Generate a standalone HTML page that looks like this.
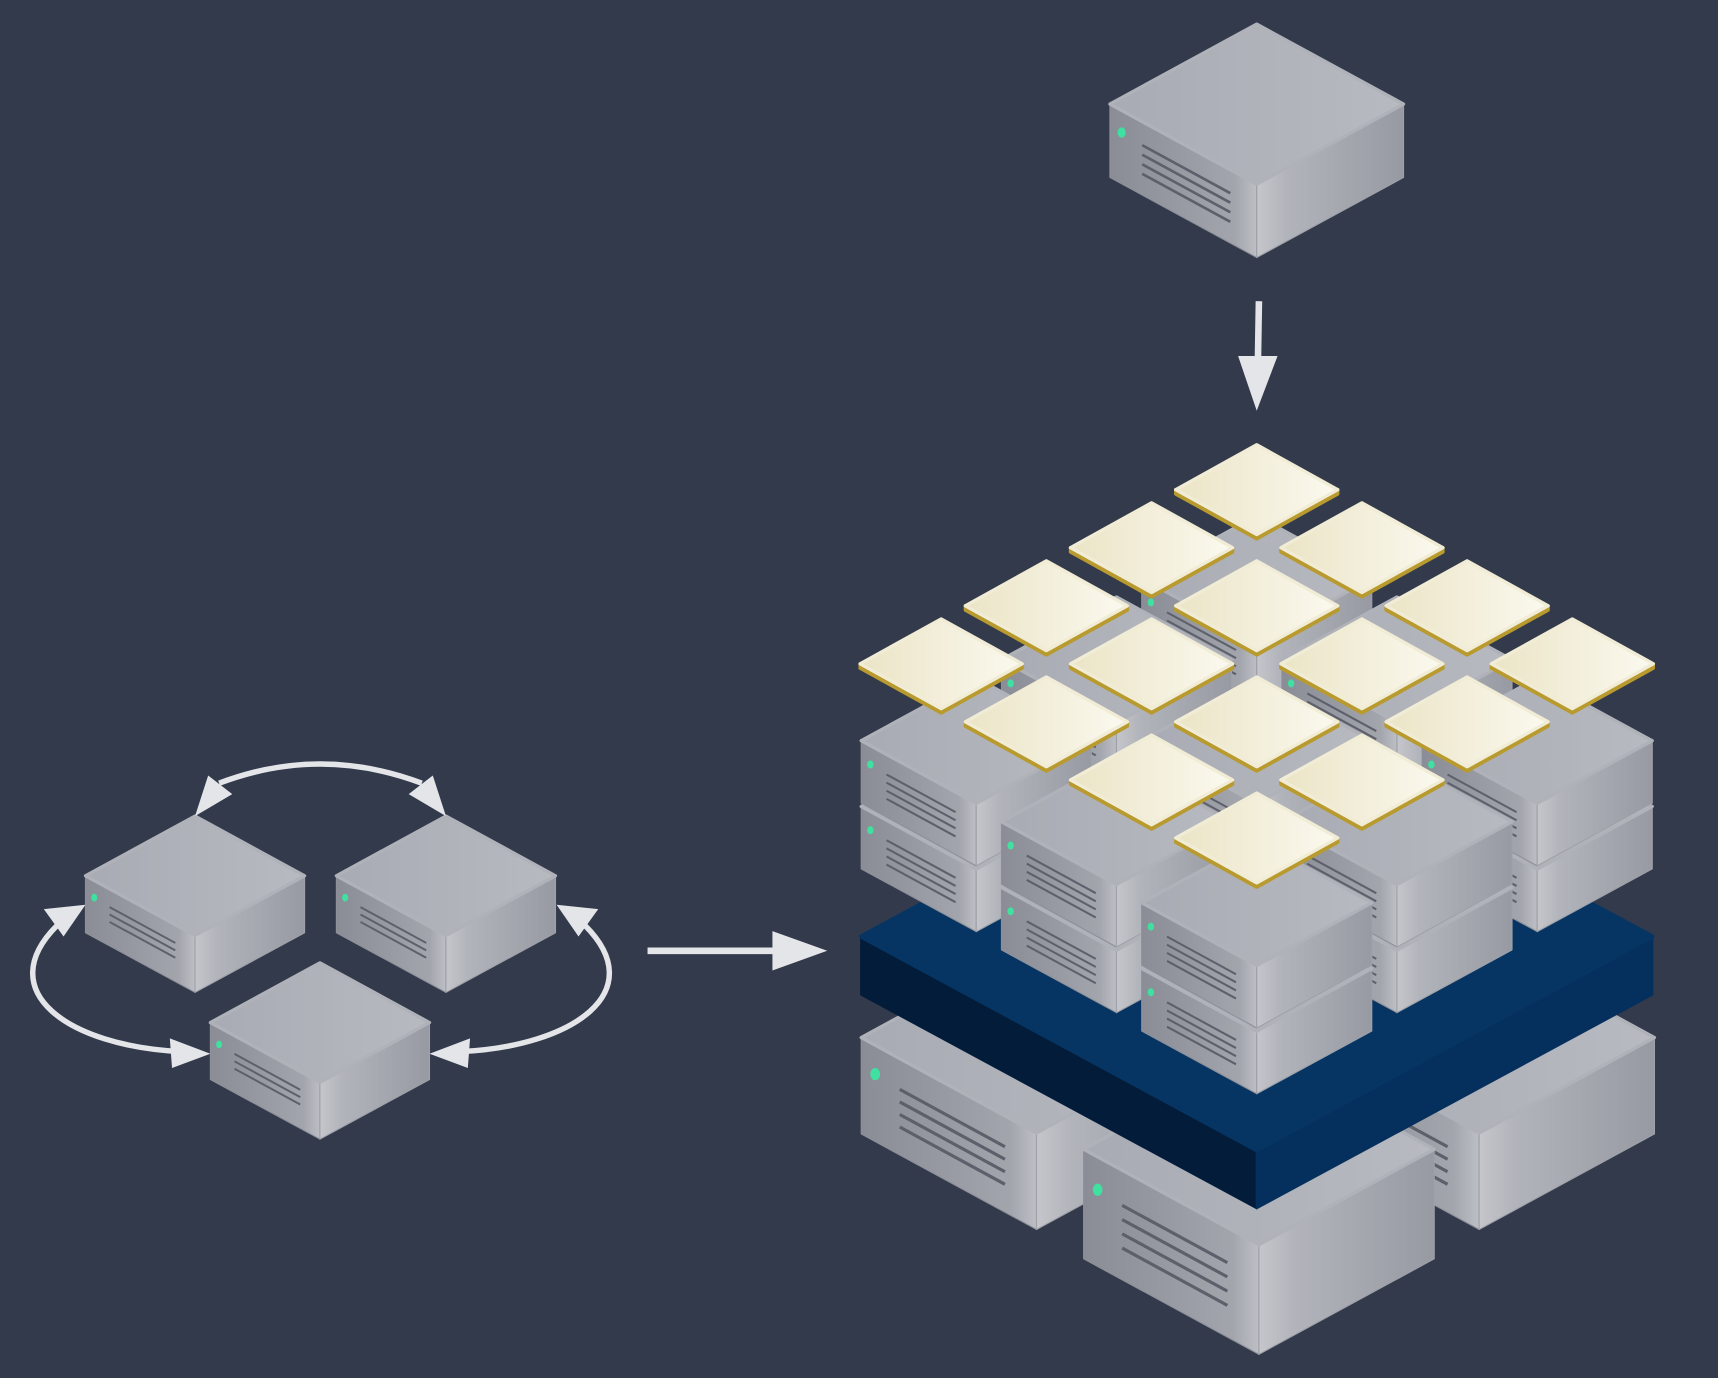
<!DOCTYPE html>
<html><head><meta charset="utf-8"><style>html,body{margin:0;padding:0;background:#323a4c;overflow:hidden}svg{display:block}</style></head>
<body>
<svg id="s" width="1718" height="1378" viewBox="0 0 1568 1258" preserveAspectRatio="none" xmlns="http://www.w3.org/2000/svg">
<defs>
<linearGradient id="gTop" x1="0" x2="1" y1="0" y2="0"><stop offset="0" stop-color="#a9abb4"/><stop offset="1" stop-color="#b8bac1"/></linearGradient>
<linearGradient id="gL" x1="0" x2="1" y1="0" y2="0"><stop offset="0" stop-color="#8a8c96"/><stop offset="0.85" stop-color="#a3a5ad"/><stop offset="1" stop-color="#bdbfc5"/></linearGradient>
<linearGradient id="gR" x1="0" x2="1" y1="0" y2="0"><stop offset="0" stop-color="#c4c6cb"/><stop offset="0.2" stop-color="#b2b4bb"/><stop offset="1" stop-color="#989aa3"/></linearGradient>
<linearGradient id="gTile" x1="0" x2="1" y1="0" y2="0"><stop offset="0" stop-color="#ebe4c6"/><stop offset="1" stop-color="#fbf9ef"/></linearGradient>
</defs>
<g id="root"></g>
</svg>
<script>
var root=document.getElementById('root'),NS='http://www.w3.org/2000/svg';
function el(t,a){var e=document.createElementNS(NS,t);for(var k in a)e.setAttribute(k,a[k]);root.appendChild(e);return e;}
function P(a){return a.map(function(p){return p[0].toFixed(1)+','+p[1].toFixed(1)}).join(' ');}
function server(cx,ty,w,d,lines){
  var h=w*0.545;
  var T=[cx,ty],R=[cx+w,ty+h],B=[cx,ty+2*h],L=[cx-w,ty+h];
  el('polygon',{points:P([L,B,[B[0],B[1]+d],[L[0],L[1]+d]]),fill:'url(#gL)',stroke:'#8e9099','stroke-width':1,'stroke-linejoin':'round'});
  el('polygon',{points:P([B,R,[R[0],R[1]+d],[B[0],B[1]+d]]),fill:'url(#gR)',stroke:'#9fa1a8','stroke-width':1,'stroke-linejoin':'round'});
  el('polygon',{points:P([T,R,B,L]),fill:'url(#gTop)',stroke:'#b0b2b9','stroke-width':3,'stroke-linejoin':'round'});
  function pt(u,v){return [L[0]+u*(B[0]-L[0]),L[1]+u*(B[1]-L[1])+v*d];}
  var led=pt(0.08,0.3);
  el('ellipse',{cx:led[0],cy:led[1],rx:w*0.028,ry:w*0.035,fill:'#3fe0a0'});
  var n=lines||4;
  for(var i=0;i<n;i++){var v=0.32+i*0.13;var a=pt(0.22,v),b=pt(0.82,v);
    el('line',{x1:a[0],y1:a[1],x2:b[0],y2:b[1],stroke:'#5d606b','stroke-width':Math.max(1.5,w*0.018)});}
}
function tile(cx,cy){
  var w=74,h=41,t=4;
  el('polygon',{points:P([[cx-w,cy],[cx,cy+h],[cx+w,cy],[cx+w,cy+t],[cx,cy+h+t],[cx-w,cy+t]]),fill:'#b89a2e',stroke:'#b89a2e','stroke-width':3,'stroke-linejoin':'round'});
  el('polygon',{points:P([[cx,cy-h],[cx+w,cy],[cx,cy+h],[cx-w,cy]]),fill:'url(#gTile)',stroke:'#f1ecd6','stroke-width':3,'stroke-linejoin':'round'});
}
server(1147,22,134,67);
el('line',{x1:1149,y1:275,x2:1148,y2:335,stroke:'#e4e5e8','stroke-width':6});
el('polygon',{points:'1130,325 1166,325 1147,375',fill:'#e4e5e8'});
el('line',{x1:591,y1:868,x2:712,y2:868,stroke:'#e4e5e8','stroke-width':6});
el('polygon',{points:'705,850 705,886 755,868',fill:'#e4e5e8'});
server(178,745,100,52,3);
server(407,745,100,52,3);
server(292,879,100,52,3);
var arc={fill:'none',stroke:'#e4e5e8','stroke-width':5};
el('path',Object.assign({d:'M200,715 Q292,680 385,715'},arc));
el('polygon',{points:'178,745 190,708 212,725',fill:'#e4e5e8'});
el('polygon',{points:'407,745 395,708 373,725',fill:'#e4e5e8'});
el('path',Object.assign({d:'M52,845 C-8,905 62,955 165,960','stroke-width':6},arc));
el('polygon',{points:'78,826 40,830 58,855',fill:'#e4e5e8'});
el('polygon',{points:'192,962 155,948 157,975',fill:'#e4e5e8'});
el('path',Object.assign({d:'M534,845 C594,905 524,955 421,960','stroke-width':6},arc));
el('polygon',{points:'508,826 546,830 528,855',fill:'#e4e5e8'});
el('polygon',{points:'392,962 429,948 427,975',fill:'#e4e5e8'});
server(1147,780,160,85);
server(946,860,160,88);
server(1350,860,160,88);
server(1149,962,160,100);
(function(){var L=[786,855],T=[1147,660],R=[1508,855],B=[1147,1050],d=53;
el('polygon',{points:P([L,B,[B[0],B[1]+d],[L[0],L[1]+d]]),fill:'#031c3a',stroke:'#031c3a','stroke-width':2,'stroke-linejoin':'round'});
el('polygon',{points:P([B,R,[R[0],R[1]+d],[B[0],B[1]+d]]),fill:'#052f5c',stroke:'#052f5c','stroke-width':2,'stroke-linejoin':'round'});
el('polygon',{points:P([T,R,B,L]),fill:'#063563',stroke:'#063563','stroke-width':4,'stroke-linejoin':'round'});})();
var list=[];for(var i=0;i<3;i++)for(var j=0;j<3;j++)list.push([i,j]);
list.sort(function(a,b){return (b[0]+b[1])-(a[0]+a[1]);});
list.forEach(function(q){var cx=1147+(q[1]-q[0])*128,ty=767-(q[0]+q[1])*74;
  server(cx,ty+60,105,57);server(cx,ty,105,57);});
var tl=[];for(var i=0;i<4;i++)for(var j=0;j<4;j++)tl.push([i,j]);
tl.sort(function(a,b){return (b[0]+b[1])-(a[0]+a[1]);});
tl.forEach(function(q){tile(1147+(q[1]-q[0])*96,765-(q[0]+q[1])*53);});
</script>
</body></html>
